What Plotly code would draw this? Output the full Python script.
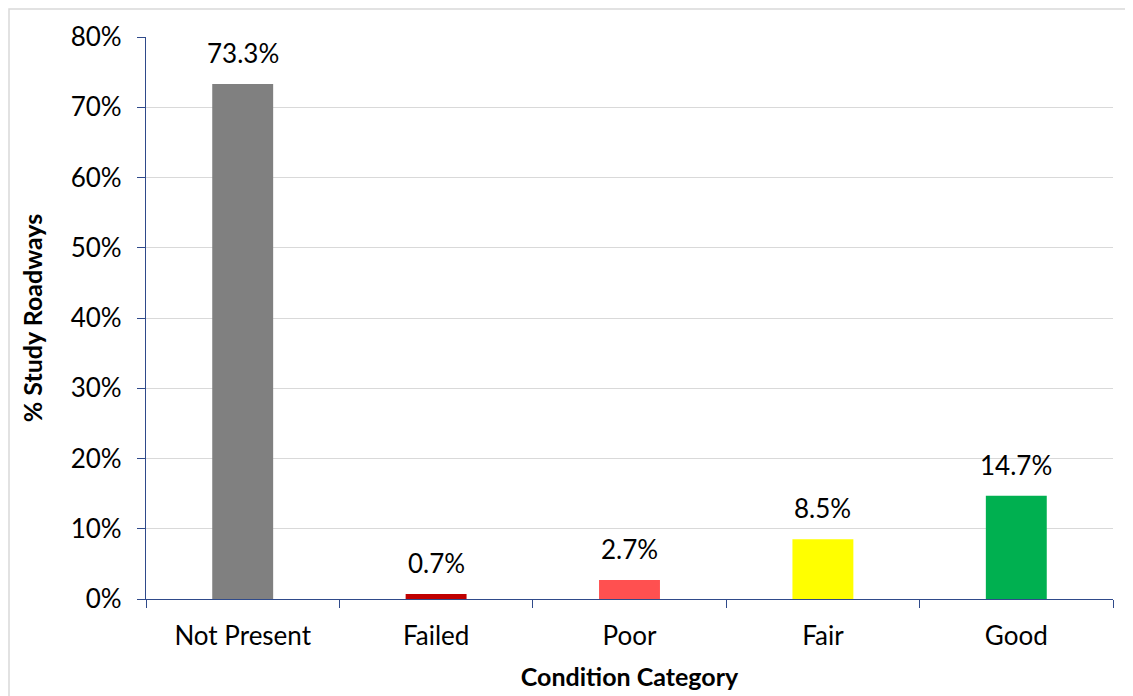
import plotly.graph_objects as go

categories = ["Not Present", "Failed", "Poor", "Fair", "Good"]
shares = [73.3, 0.7, 2.7, 8.5, 14.7]
bar_colors = ["#808080", "#C00000", "#FF5050", "#FFFF00", "#00B050"]
y_ticks = [0, 10, 20, 30, 40, 50, 60, 70, 80]

font_name = "Lato, Open Sans, sans-serif"
font_size = 26
axis_blue = "#2F4A8A"

W, H = 1125, 688
ML, MR, MT, MB = 138, 20, 29, 97
pw = W - ML - MR
ph = H - MT - MB

fig = go.Figure()

fig.add_trace(
    go.Bar(
        x=categories,
        y=shares,
        marker=dict(color=bar_colors, line=dict(width=0)),
        width=0.315,
        hoverinfo="x+y",
    )
)

for cat, val in zip(categories, shares):
    fig.add_annotation(
        x=cat,
        y=val,
        text=f"{val:.1f}%",
        showarrow=False,
        yanchor="bottom",
        yshift=13,
        font=dict(family=font_name, size=font_size, color="#000000"),
    )

# outer chart border
fig.add_shape(
    type="rect",
    xref="paper",
    yref="paper",
    x0=-(ML - 1) / pw,
    x1=1.2,
    y0=-0.3,
    y1=1 + (MT - 1) / ph,
    line=dict(color="#D9D9D9", width=1.5),
    fillcolor="rgba(0,0,0,0)",
    layer="below",
)

fig.update_layout(
    width=W,
    height=H,
    margin=dict(l=ML, r=MR, t=MT, b=MB),
    paper_bgcolor="white",
    plot_bgcolor="white",
    showlegend=False,
    font=dict(family=font_name, size=font_size, color="#000000"),
)

fig.update_xaxes(
    type="category",
    automargin=False,
    showline=True,
    linecolor=axis_blue,
    linewidth=1.2,
    ticks="outside",
    tickson="boundaries",
    ticklen=8,
    tickcolor=axis_blue,
    showgrid=False,
    tickfont=dict(family=font_name, size=font_size),
    ticklabelstandoff=14,
    title=dict(
        text="<b>Condition Category</b>",
        font=dict(family=font_name, size=font_size - 1),
        standoff=18,
    ),
)

fig.update_yaxes(
    range=[0, 80],
    automargin=False,
    tickvals=y_ticks,
    ticktext=[f"{v}%" for v in y_ticks],
    showline=True,
    linecolor=axis_blue,
    linewidth=1.2,
    ticks="outside",
    ticklen=8,
    tickcolor=axis_blue,
    showgrid=True,
    gridcolor="#D9D9D9",
    gridwidth=1.2,
    zeroline=False,
    tickfont=dict(family=font_name, size=font_size),
    ticklabelstandoff=10,
    title=dict(
        text="<b>% Study Roadways</b>",
        font=dict(family=font_name, size=font_size - 1),
        standoff=20,
    ),
)

fig.write_html("out.html")
